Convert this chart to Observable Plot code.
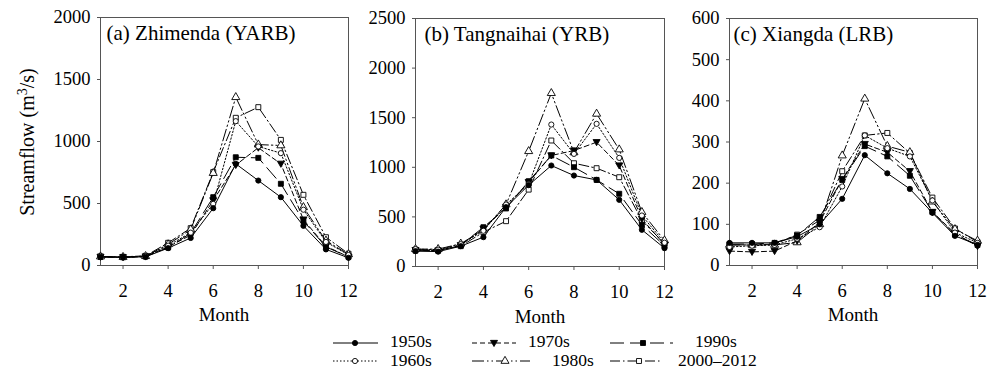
<!DOCTYPE html>
<html><head><meta charset="utf-8">
<script src="https://cdn.jsdelivr.net/npm/d3@7"></script>
<script src="https://cdn.jsdelivr.net/npm/@observablehq/plot@0.6"></script>
<style>
body{margin:0;background:#fff;}
#chart{position:relative;width:1000px;height:371px;font-family:"Liberation Serif",serif;color:#000;overflow:hidden;background:#fff;}
#chart svg text{font-family:"Liberation Serif",serif;}
.abs{position:absolute;white-space:nowrap;}
</style></head><body><div id="chart"></div>
<script>
// ---------------- data ----------------
const months = [1,2,3,4,5,6,7,8,9,10,11,12];
const seriesNames = ["1950s","1960s","1970s","1980s","1990s","2000–2012"];
const xTicks = [2,4,6,8,10,12];

// (a) Zhimenda (YARB)
const zhimenda1950s = [68, 66, 70, 140, 222, 462, 820, 685, 551, 320, 130, 62];
const zhimenda1960s = [72, 68, 75, 160, 265, 497, 1164, 960, 906, 450, 190, 85];
const zhimenda1970s = [70, 66, 72, 150, 245, 525, 810, 950, 820, 370, 155, 70];
const zhimenda1980s = [72, 68, 75, 170, 290, 745, 1357, 975, 968, 470, 200, 90];
const zhimenda1990s = [70, 66, 72, 145, 260, 551, 873, 868, 659, 360, 150, 70];
const zhimenda2000s = [72, 70, 78, 183, 301, 753, 1191, 1277, 1013, 570, 228, 95];
const zhimendaTicks = [0, 500, 1000, 1500, 2000];

// (b) Tangnaihai (YRB)
const tangnaihai1950s = [155, 150, 205, 296, 598, 820, 1018, 917, 873, 672, 370, 185];
const tangnaihai1960s = [175, 170, 225, 360, 625, 830, 1431, 1135, 1438, 1095, 514, 240];
const tangnaihai1970s = [165, 160, 215, 380, 600, 850, 1119, 1169, 1253, 1018, 480, 220];
const tangnaihai1980s = [175, 175, 230, 370, 625, 1162, 1747, 1150, 1539, 1179, 548, 262];
const tangnaihai1990s = [160, 160, 215, 396, 585, 860, 1119, 1001, 873, 733, 420, 210];
const tangnaihai2000s = [170, 165, 205, 346, 457, 775, 1270, 1041, 991, 900, 464, 230];
const tangnaihaiTicks = [0, 500, 1000, 1500, 2000, 2500];

// (c) Xiangda (LRB)
const xiangda1950s = [55, 55, 55, 70, 100, 162, 268, 224, 186, 128, 72, 50];
const xiangda1960s = [45, 48, 50, 65, 93, 192, 316, 285, 265, 158, 80, 55];
const xiangda1970s = [35, 33, 35, 60, 105, 210, 295, 275, 229, 130, 78, 47];
const xiangda1980s = [50, 50, 50, 56, 100, 267, 405, 290, 275, 155, 88, 60];
const xiangda1990s = [52, 52, 55, 73, 118, 208, 290, 265, 218, 130, 75, 50];
const xiangda2000s = [50, 50, 52, 75, 110, 229, 316, 322, 273, 165, 90, 57];
const xiangdaTicks = [0, 100, 200, 300, 400, 500, 600];

// ---------------- styles ----------------
const SERIF = "Liberation Serif, serif";
const triangleDown = {
  draw(ctx, size) {
    const s = Math.sqrt(size) * 0.62;
    ctx.moveTo(0, s);
    ctx.lineTo(-s, -s * 0.75);
    ctx.lineTo(s, -s * 0.75);
    ctx.closePath();
  }
};
const styles = {
  "1950s":     {dash: null,               symbol: "circle",   fill: "black", r: 2.6},
  "1960s":     {dash: "1.5,2",            symbol: "circle",   fill: "white", r: 2.6},
  "1970s":     {dash: "5,3",              symbol: triangleDown, fill: "black", r: 3.2},
  "1980s":     {dash: "12,3,1.5,3,1.5,3", symbol: "triangle", fill: "white", r: 3.0},
  "1990s":     {dash: "14,6",             symbol: "square",   fill: "black", r: 2.8},
  "2000–2012": {dash: "10,3,1.5,3",       symbol: "square",   fill: "white", r: 2.8}
};

const chart = document.getElementById("chart");
function addText(html, left, top, size, lh, extra) {
  const d = document.createElement("div");
  d.className = "abs";
  d.innerHTML = html;
  d.style.left = left + "px";
  d.style.top = top + "px";
  d.style.fontSize = size + "px";
  d.style.lineHeight = lh + "px";
  if (extra) Object.assign(d.style, extra);
  chart.appendChild(d);
  return d;
}

function panel(seriesArrays, ticks, title, box) {
  const rows = [];
  seriesNames.forEach((name, i) => {
    seriesArrays[i].forEach((v, j) => rows.push({series: name, month: months[j], value: v}));
  });
  const marks = [
    Plot.frame({stroke: "#555", strokeWidth: 1}),
    Plot.axisX({ticks: xTicks, tickSize: 4, tickPadding: 14, label: null, fontSize: 18.5,
      fontFamily: SERIF, stroke: "#555", fill: "black"}),
    Plot.axisY({ticks: ticks, tickSize: 3, tickPadding: 7, label: null, fontSize: 18.5,
      fontFamily: SERIF, tickFormat: d3.format("d"), stroke: "#555", fill: "black"})
  ];
  seriesNames.slice().reverse().forEach(name => {
    const st = styles[name];
    const sub = rows.filter(d => d.series === name);
    marks.push(Plot.line(sub, {x: "month", y: "value", stroke: "black", strokeWidth: 1,
      strokeDasharray: st.dash || undefined}));
  });
  seriesNames.slice().reverse().forEach(name => {
    const st = styles[name];
    const sub = rows.filter(d => d.series === name);
    marks.push(Plot.dot(sub, {x: "month", y: "value", symbol: () => st.symbol, r: st.r,
      fill: st.fill, stroke: "black", strokeWidth: 0.9}));
  });
  marks.push(Plot.text([title], {frameAnchor: "top-left", dx: box.titleDx, dy: 8, lineAnchor: "top",
    textAnchor: "start", fontSize: 21, fontFamily: SERIF, fill: "black", text: d => d}));
  const svg = Plot.plot({
    width: box.width, height: 300,
    marginLeft: box.ml, marginRight: box.mr, marginTop: box.mt, marginBottom: box.mb,
    style: {background: "transparent", overflow: "visible"},
    x: {domain: [1, 12]},
    y: {domain: [ticks[0], ticks[ticks.length - 1]]},
    symbol: {type: "identity"},
    marks
  });
  svg.setAttribute("font-family", SERIF);
  svg.style.position = "absolute";
  svg.style.left = box.left + "px";
  svg.style.top = "0px";
  chart.appendChild(svg);
}

panel([zhimenda1950s, zhimenda1960s, zhimenda1970s, zhimenda1980s, zhimenda1990s, zhimenda2000s],
  zhimendaTicks, "(a) Zhimenda (YARB)", {left: 30, width: 330, ml: 70, mr: 12, mt: 17, mb: 35, titleDx: 6});
panel([tangnaihai1950s, tangnaihai1960s, tangnaihai1970s, tangnaihai1980s, tangnaihai1990s, tangnaihai2000s],
  tangnaihaiTicks, "(b) Tangnaihai (YRB)", {left: 360, width: 320, ml: 55, mr: 16, mt: 18, mb: 34, titleDx: 9});
panel([xiangda1950s, xiangda1960s, xiangda1970s, xiangda1980s, xiangda1990s, xiangda2000s],
  xiangdaTicks, "(c) Xiangda (LRB)", {left: 680, width: 320, ml: 49, mr: 23, mt: 18, mb: 35, titleDx: 4});

// axis titles
addText("Streamflow (m<sup style='font-size:14px;vertical-align:7px;line-height:0'>3</sup>/s)", 27, 142, 20, 20,
  {transform: "translate(-50%,-50%) rotate(-90deg)"});
addText("Month", 224, 315, 19, 14, {transform: "translate(-50%,-50%)"});
addText("Month", 540, 317, 19, 14, {transform: "translate(-50%,-50%)"});
addText("Month", 853, 315, 19, 14, {transform: "translate(-50%,-50%)"});

// ---------------- legend ----------------
const legendItems = [
  {name: "1950s",     x0: 333, x1: 378, mx: 355, tx: 390, row: 0},
  {name: "1970s",     x0: 472, x1: 516, mx: 494, tx: 528, row: 0},
  {name: "1990s",     x0: 610, x1: 673, mx: 643, tx: 695, row: 0},
  {name: "1960s",     x0: 333, x1: 378, mx: 355, tx: 390, row: 1},
  {name: "1980s",     x0: 472, x1: 530, mx: 505, tx: 552, row: 1},
  {name: "2000–2012", x0: 610, x1: 661, mx: 639, tx: 678, row: 1}
];
const rowLineY = [343, 361];
const rowTextY = [340.5, 359.5];
const lsvg = d3.select(chart).append("svg")
  .attr("width", 1000).attr("height", 371)
  .style("position", "absolute").style("left", "0px").style("top", "0px")
  .style("pointer-events", "none");
legendItems.forEach(it => {
  const st = styles[it.name];
  const y = rowLineY[it.row];
  lsvg.append("line").attr("x1", it.x0).attr("x2", it.x1).attr("y1", y).attr("y2", y)
    .attr("stroke", "black").attr("stroke-width", 1)
    .attr("stroke-dasharray", st.dash || null);
  const symType = typeof st.symbol === "string"
    ? {circle: d3.symbolCircle, triangle: d3.symbolTriangle, square: d3.symbolSquare}[st.symbol]
    : st.symbol;
  lsvg.append("path").attr("d", d3.symbol(symType, Math.PI * st.r * st.r)())
    .attr("transform", `translate(${it.mx},${y})`)
    .attr("fill", st.fill).attr("stroke", "black").attr("stroke-width", 0.9);
  addText(it.name, it.tx, rowTextY[it.row], 17.5, 13, {transform: "translate(0,-50%)"});
});
</script></body></html>
